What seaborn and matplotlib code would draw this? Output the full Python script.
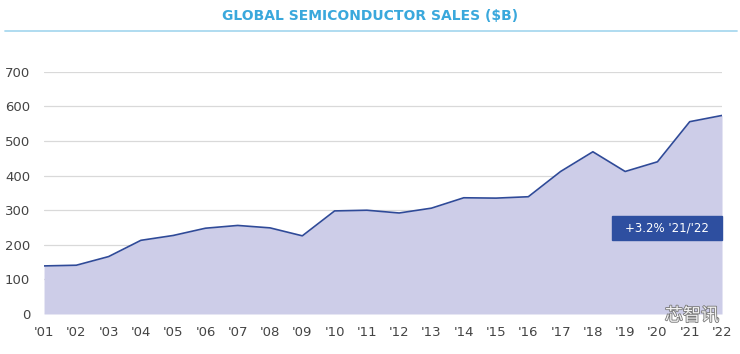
import numpy as np
import pandas as pd
import seaborn as sns
import matplotlib.pyplot as plt
import matplotlib.patheffects as pe
from matplotlib.patches import Rectangle
from matplotlib.lines import Line2D

# data
years = ["'01", "'02", "'03", "'04", "'05", "'06", "'07", "'08", "'09", "'10", "'11",
         "'12", "'13", "'14", "'15", "'16", "'17", "'18", "'19", "'20", "'21", "'22"]
sales = [139, 141, 166, 213, 227, 248, 256, 249, 226, 298, 300,
         292, 306, 336, 335, 339, 412, 469, 412, 440, 556, 574]
yticks = [0, 100, 200, 300, 400, 500, 600, 700]
note = "+3.2% '21/'22"

df = pd.DataFrame({'idx': np.arange(len(years)), 'sales': sales})

sns.set_style('white')
plt.rcParams['font.family'] = ['DejaVu Sans']

fig = plt.figure(figsize=(7.4, 3.54), dpi=100)
ax = fig.add_axes([0.0595, 0.113, 0.9162, 0.684])

ax.fill_between(df['idx'], df['sales'], color='#cdcde8', lw=0, zorder=1)
sns.lineplot(data=df, x='idx', y='sales', color='#2f4a98', lw=1.2, ax=ax, zorder=3)

ax.set_xlim(0, len(years) - 1)
ax.set_ylim(0, 700)
ax.set_yticks(yticks)
ax.set_xticks(df['idx'])
ax.set_xticklabels(years)
ax.grid(axis='y', color='#d9d9d9', lw=0.9, zorder=0)
ax.set_axisbelow(True)
for s in ax.spines.values():
    s.set_visible(False)
ax.tick_params(axis='y', length=0, pad=10, labelsize=9.5, labelcolor='#444444')
ax.tick_params(axis='x', length=0, pad=9, labelsize=9.5, labelcolor='#444444')
ax.set_xlabel('')
ax.set_ylabel('')

# annotation box
ax.add_patch(Rectangle((17.6, 214), len(years) - 1 - 17.6, 69, color='#2e4fa0',
                       zorder=4, clip_on=False))
ax.text((17.6 + len(years) - 1) / 2, 248.5, note, color='white', fontsize=8.5,
        ha='center', va='center', zorder=5)

# title and the thin rule under it
fig.text(0.5, 0.955, 'GLOBAL SEMICONDUCTOR SALES ($B)', color='#3aa8dc',
         fontsize=10, fontweight='bold', ha='center', va='center')
fig.add_artist(Line2D([0.007, 0.996], [0.912, 0.912], color='#a9d9ef', lw=1.3))

# watermark
fig.text(0.935, 0.108, '芯智讯', family=['Noto Sans CJK SC', 'DejaVu Sans'],
         fontsize=13, color='#f2f2f2', ha='center', va='center', zorder=10,
         path_effects=[pe.withStroke(linewidth=1.2, foreground='#777777')])

fig.savefig('out.png', dpi=100)
